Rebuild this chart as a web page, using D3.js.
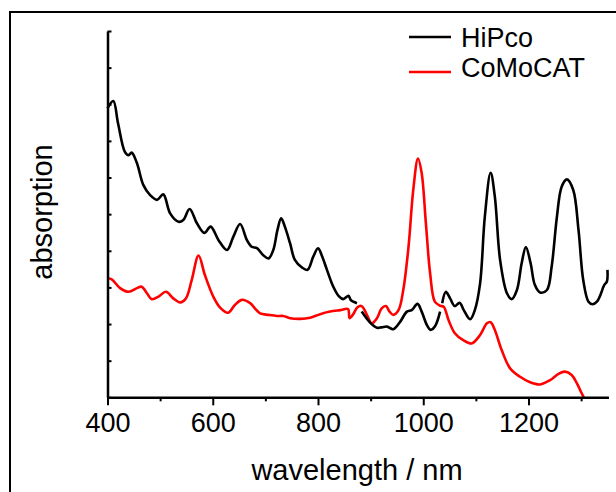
<!DOCTYPE html>
<html>
<head>
<meta charset="utf-8">
<script src="https://cdn.jsdelivr.net/npm/d3@7"></script>
<style>
  body { margin: 0; background: #fff; }
  text { font-family: Arial, "Liberation Sans", sans-serif; fill: #000; }
</style>
</head>
<body>
<svg id="canvas"></svg>
<script>
// HiPco spectrum, null = gap in the trace (detector change)
let hipcoNm = [400, 411, 420, 433, 440, 446, 456, 468, 481, 494, 506, 519, 535, 544, 556, 570, 584, 596, 611, 627,
  639, 652, 665, 674, 684, 696, 706, 715, 723, 730, 737, 747, 756, 769, 780, 791, 800, 807, 817, 829,
  839, 848, 858, 862, 867, 874, 878,
  883, 899, 912, 921, 931, 943, 956, 969, 978, 989, 997, 1007, 1014, 1022, 1032, 1034,
  1036, 1043, 1051, 1060, 1069, 1077, 1089, 1098, 1108, 1117, 1128, 1136, 1146, 1159, 1168, 1178, 1187, 1195,
  1204, 1212, 1222, 1235, 1244, 1254, 1263, 1273, 1285, 1295, 1304, 1314, 1322, 1330, 1336, 1344, 1349, 1350]
let hipcoVal = [0.789, 0.809, 0.748, 0.670, 0.661, 0.668, 0.639, 0.580, 0.552, 0.539, 0.554, 0.502, 0.479, 0.484, 0.514, 0.475, 0.449, 0.466, 0.429, 0.402,
  0.438, 0.473, 0.429, 0.411, 0.407, 0.388, 0.379, 0.402, 0.457, 0.489, 0.466, 0.420, 0.375, 0.355, 0.348, 0.384, 0.407, 0.388, 0.348, 0.302,
  0.277, 0.268, 0.277, 0.266, 0.261, 0.257, null,
  0.234, 0.204, 0.190, 0.191, 0.193, 0.186, 0.206, 0.234, 0.238, 0.255, 0.234, 0.197, 0.184, 0.193, 0.234, null,
  0.257, 0.288, 0.270, 0.249, 0.258, 0.238, 0.213, 0.238, 0.311, 0.493, 0.613, 0.548, 0.375, 0.284, 0.268, 0.293, 0.366, 0.410,
  0.366, 0.307, 0.286, 0.293, 0.357, 0.493, 0.575, 0.595, 0.566, 0.457, 0.320, 0.261, 0.254, 0.261, 0.277, 0.307, 0.316, 0.348]

// CoMoCAT spectrum
let comoNm = [400, 408, 424, 440, 456, 465, 475, 484, 497, 511, 525, 538, 549, 560, 573, 585, 601, 614, 629, 642,
  655, 671, 680, 690, 706, 722, 734, 747, 766, 785, 804, 823, 842, 857, 860, 867, 875, 883, 893, 902,
  912, 921, 929, 936, 943, 953, 962, 972, 981, 990, 997, 1005, 1013, 1022, 1032, 1039, 1048, 1060, 1076, 1092,
  1108, 1121, 1128, 1136, 1149, 1165, 1184, 1203, 1222, 1241, 1257, 1269, 1282, 1292, 1301, 1305]
let comoVal = [0.325, 0.322, 0.298, 0.288, 0.298, 0.302, 0.284, 0.268, 0.275, 0.288, 0.270, 0.259, 0.270, 0.320, 0.387, 0.334, 0.275, 0.245, 0.231, 0.252,
  0.266, 0.257, 0.243, 0.229, 0.225, 0.222, 0.222, 0.216, 0.214, 0.217, 0.227, 0.234, 0.238, 0.241, 0.216, 0.227, 0.246, 0.249, 0.225, 0.202,
  0.216, 0.243, 0.249, 0.234, 0.225, 0.238, 0.293, 0.411, 0.566, 0.652, 0.612, 0.475, 0.339, 0.261, 0.250, 0.247, 0.211, 0.175, 0.156, 0.147,
  0.170, 0.202, 0.205, 0.184, 0.129, 0.079, 0.056, 0.041, 0.035, 0.047, 0.064, 0.070, 0.061, 0.038, 0.011, 0.000]

let majorTicks = [400, 600, 800, 1000, 1200]
let minorTicks = [500, 700, 900, 1100, 1300]
let yTicks = [0, 0.1, 0.2, 0.3, 0.4, 0.5, 0.6, 0.7, 0.8, 0.9, 1.0]

let seriesNames = ['HiPco', 'CoMoCAT']
let seriesColors = ['#000000', '#ff0000']

let w = 616
let h = 492

let canvas = d3.select('#canvas')
canvas.attr('width', w)
canvas.attr('height', h)

// outer frame
canvas.append('rect')
  .attr('x', 10).attr('y', 12)
  .attr('width', 720).attr('height', 600)
  .attr('fill', 'none').attr('stroke', '#000').attr('stroke-width', 2)

let xScale = d3.scaleLinear().domain([400, 1352]).range([107.5, 608.5])
let yScale = d3.scaleLinear().domain([0, 1]).range([397.3, 31])

let line = d3.line()
  .defined(d => d[1] != null)
  .x(d => xScale(d[0]))
  .y(d => yScale(d[1]))
  .curve(d3.curveCatmullRom.alpha(0.5))

let hipco = hipcoNm.map((n, i) => [n, hipcoVal[i]])
let como = comoNm.map((n, i) => [n, comoVal[i]])

canvas.append('path')
  .datum(como)
  .attr('d', line)
  .attr('fill', 'none')
  .attr('stroke', seriesColors[1])
  .attr('stroke-width', 2.6)

canvas.append('path')
  .datum(hipco)
  .attr('d', line)
  .attr('fill', 'none')
  .attr('stroke', seriesColors[0])
  .attr('stroke-width', 2.6)

// x axis
let xAxis = d3.axisBottom(xScale).tickValues(majorTicks).tickFormat(d3.format('d'))
  .tickSize(8).tickPadding(8).tickSizeOuter(0)
let gx = canvas.append('g')
  .attr('transform', 'translate(0,' + yScale(0) + ')')
  .call(xAxis)
gx.select('.domain').attr('stroke-width', 2.5)
gx.selectAll('.tick line').attr('stroke-width', 2)
gx.selectAll('.tick text').style('font-size', '27px')

let xMinor = d3.axisBottom(xScale).tickValues(minorTicks).tickSize(4).tickFormat('').tickSizeOuter(0)
let gxm = canvas.append('g')
  .attr('transform', 'translate(0,' + yScale(0) + ')')
  .call(xMinor)
gxm.select('.domain').remove()
gxm.selectAll('.tick line').attr('stroke-width', 2)

// y axis, inward ticks, no labels
let yAxis = d3.axisRight(yScale).tickValues(yTicks).tickSize(4).tickFormat('').tickSizeOuter(0)
let gy = canvas.append('g')
  .attr('transform', 'translate(' + xScale(400) + ',0)')
  .call(yAxis)
gy.select('.domain').attr('stroke-width', 2.5)
gy.selectAll('.tick line').attr('stroke-width', 2)

// axis titles
canvas.append('text')
  .attr('x', 357).attr('y', 480)
  .attr('text-anchor', 'middle')
  .style('font-size', '29px')
  .text('wavelength / nm')

canvas.append('text')
  .attr('transform', 'translate(52,212) rotate(-90)')
  .attr('text-anchor', 'middle')
  .style('font-size', '29px')
  .text('absorption')

// legend
let legendY = [37, 72]
let legendTextY = [47, 77]
seriesNames.forEach((name, i) => {
  canvas.append('line')
    .attr('x1', 409).attr('x2', 451)
    .attr('y1', legendY[i]).attr('y2', legendY[i])
    .attr('stroke', seriesColors[i]).attr('stroke-width', 2.6)
  canvas.append('text')
    .attr('x', 461).attr('y', legendTextY[i])
    .style('font-size', '27px')
    .text(name)
})
</script>
</body>
</html>
